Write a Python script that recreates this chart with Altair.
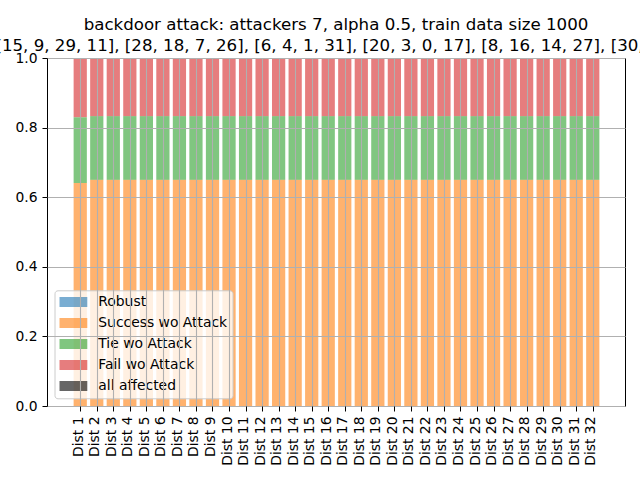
import altair as alt
import pandas as pd

dists = ["Dist 1", "Dist 2", "Dist 3", "Dist 4", "Dist 5", "Dist 6", "Dist 7", "Dist 8",
         "Dist 9", "Dist 10", "Dist 11", "Dist 12", "Dist 13", "Dist 14", "Dist 15", "Dist 16",
         "Dist 17", "Dist 18", "Dist 19", "Dist 20", "Dist 21", "Dist 22", "Dist 23", "Dist 24",
         "Dist 25", "Dist 26", "Dist 27", "Dist 28", "Dist 29", "Dist 30", "Dist 31", "Dist 32"]
dist_idx = [1, 2, 3, 4, 5, 6, 7, 8, 9, 10, 11, 12, 13, 14, 15, 16,
            17, 18, 19, 20, 21, 22, 23, 24, 25, 26, 27, 28, 29, 30, 31, 32]

series = ["Robust", "Success wo Attack", "Tie wo Attack", "Fail wo Attack", "all affected"]
colors = ["#1f77b4", "#ff7f0e", "#2ca02c", "#d62728", "#000000"]

robust = [0.0, 0.0, 0.0, 0.0, 0.0, 0.0, 0.0, 0.0, 0.0, 0.0, 0.0, 0.0, 0.0, 0.0, 0.0, 0.0,
          0.0, 0.0, 0.0, 0.0, 0.0, 0.0, 0.0, 0.0, 0.0, 0.0, 0.0, 0.0, 0.0, 0.0, 0.0, 0.0]
success = [0.641, 0.65, 0.65, 0.65, 0.65, 0.65, 0.65, 0.65, 0.65, 0.65, 0.65, 0.65, 0.65, 0.65, 0.65, 0.65,
           0.65, 0.65, 0.65, 0.65, 0.65, 0.65, 0.65, 0.65, 0.65, 0.65, 0.65, 0.65, 0.65, 0.65, 0.65, 0.65]
tie = [0.189, 0.183, 0.183, 0.183, 0.183, 0.183, 0.183, 0.183, 0.183, 0.183, 0.183, 0.183, 0.183, 0.183, 0.183, 0.183,
       0.183, 0.183, 0.183, 0.183, 0.183, 0.183, 0.183, 0.183, 0.183, 0.183, 0.183, 0.183, 0.183, 0.183, 0.183, 0.183]
fail = [0.17, 0.167, 0.167, 0.167, 0.167, 0.167, 0.167, 0.167, 0.167, 0.167, 0.167, 0.167, 0.167, 0.167, 0.167, 0.167,
        0.167, 0.167, 0.167, 0.167, 0.167, 0.167, 0.167, 0.167, 0.167, 0.167, 0.167, 0.167, 0.167, 0.167, 0.167, 0.167]
affected = [0.0, 0.0, 0.0, 0.0, 0.0, 0.0, 0.0, 0.0, 0.0, 0.0, 0.0, 0.0, 0.0, 0.0, 0.0, 0.0,
            0.0, 0.0, 0.0, 0.0, 0.0, 0.0, 0.0, 0.0, 0.0, 0.0, 0.0, 0.0, 0.0, 0.0, 0.0, 0.0]

y_ticks = [0.0, 0.2, 0.4, 0.6, 0.8, 1.0]

title_lines = [
    "backdoor attack: attackers 7, alpha 0.5, train data size 1000",
    "[[15, 9, 29, 11], [28, 18, 7, 26], [6, 4, 1, 31], [20, 3, 0, 17], [8, 16, 14, 27], [30, 10]]",
]

rows = []
for k, (name, vals) in enumerate(zip(series, [robust, success, tie, fail, affected])):
    for d, i, v in zip(dists, dist_idx, vals):
        rows.append({"dist": d, "idx": i, "series": name, "value": v, "order": k})
df = pd.DataFrame(rows)

label_map = {str(i): d for i, d in zip(dist_idx, dists)}
label_expr = "{" + ", ".join(f"'{k}': '{v}'" for k, v in label_map.items()) + "}[datum.label]"

FONT = "DejaVu Sans"
FS = 13.89
GRID = dict(grid=True, gridColor="#b0b0b0", gridWidth=1.1, gridOpacity=1)

chart = alt.Chart(df).transform_window(
    top="sum(value)", groupby=["idx"], sort=[alt.SortField("order")], frame=[None, 0]
).transform_calculate(
    bottom="datum.top - datum.value",
    xl="datum.idx - 0.4",
    xr="datum.idx + 0.4",
).mark_bar(opacity=0.6).encode(
    x=alt.X("xl:Q",
            scale=alt.Scale(domain=[-1.01, 33.95], nice=False, zero=False),
            axis=alt.Axis(title=None, labelAngle=-90, values=dist_idx, labelExpr=label_expr,
                          labelOffset=-2, zindex=1, **GRID)),
    x2="xr:Q",
    y=alt.Y("top:Q",
            scale=alt.Scale(domain=[0, 1], nice=False, zero=True),
            axis=alt.Axis(title=None, values=y_ticks, format=".1f", zindex=1, **GRID)),
    y2="bottom:Q",
    color=alt.Color("series:N", sort=series,
                    scale=alt.Scale(domain=series, range=colors),
                    legend=alt.Legend(
                        title=None, orient="none", legendX=7.5, legendY=232.3,
                        symbolType="M-1,-0.357L1,-0.357L1,0.357L-1,0.357Z",
                        symbolSize=784, symbolStrokeWidth=0, symbolOpacity=0.6,
                        labelFont=FONT, labelFontSize=FS, labelColor="black",
                        labelOffset=11, clipHeight=FS, rowPadding=6, padding=4.8,
                        fillColor="rgba(255,255,255,0.8)", strokeColor="#cccccc",
                        cornerRadius=3)),
).properties(
    width=578, height=348,
    title=alt.TitleParams(text=title_lines, font=FONT, fontSize=16.65, fontWeight="normal",
                          color="black", anchor="middle", frame="group", lineHeight=20.8,
                          baseline="bottom", offset=-19.5),
    autosize=alt.AutoSizeParams(type="none"),
    padding={"left": 47, "top": 58, "right": 15, "bottom": 74},
).configure_view(
    stroke="black", strokeWidth=1
).configure_axis(
    domain=False, labelFont=FONT, labelFontSize=FS, labelColor="black",
    tickColor="black", tickSize=5, tickWidth=1, labelPadding=5,
)

chart.save("out.html", embed_options={"renderer": "svg", "actions": False})
